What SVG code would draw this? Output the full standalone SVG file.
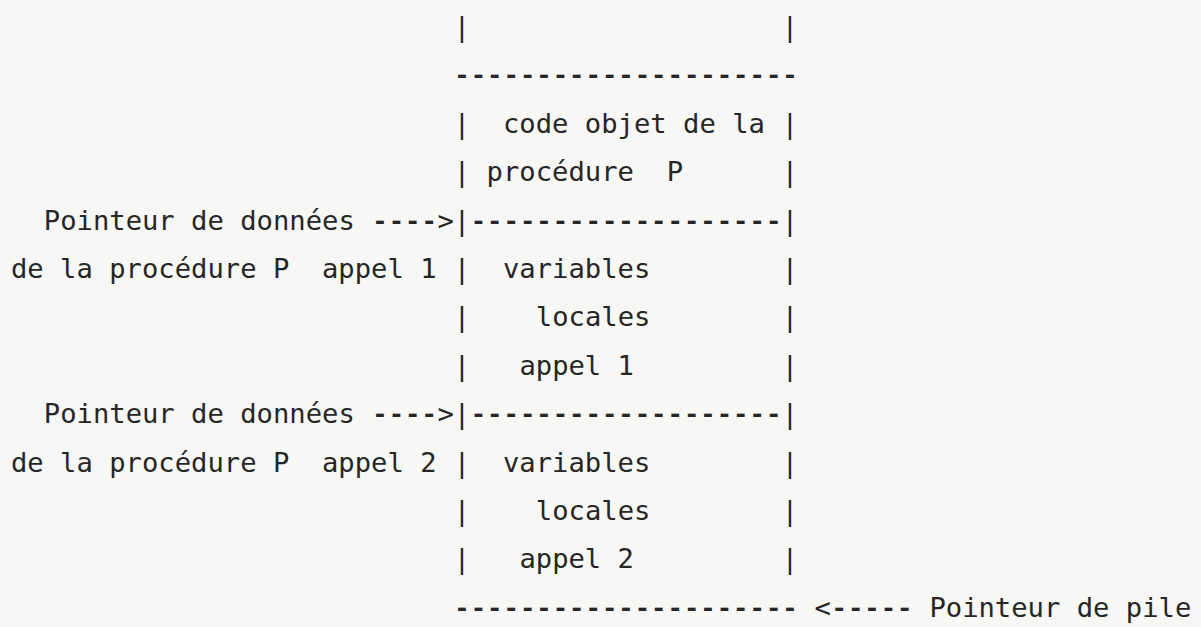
<svg xmlns="http://www.w3.org/2000/svg" width="1201" height="627" viewBox="0 0 1201 627">
<style>
text{font-family:"DejaVu Sans Mono","Liberation Mono",monospace;font-size:27.2px;fill:#262626;white-space:pre}
text.d{font-family:"Liberation Mono","DejaVu Sans Mono",monospace;font-size:27.33px;font-weight:bold}
tspan.h{font-family:"DejaVu Sans Mono","Liberation Mono",monospace;font-size:27.2px;font-weight:normal}
</style>
<rect width="1201" height="627" fill="#f7f7f5"/>
<g id="stack-top">
<text x="453.8" y="36">|</text><text x="781.8" y="36">|</text>
<text class="d" x="453.8" y="84.4">---------------------</text>
</g>
<g id="code-procedure-P">
<text x="453.8" y="132.8">|</text><text x="503" y="132.8">code objet de la</text><text x="781.8" y="132.8">|</text>
<text x="453.8" y="181.2">|</text><text x="486.6" y="181.2">procédure  P</text><text x="781.8" y="181.2">|</text>
<text x="453.8" y="229.6">|</text><text class="d" x="470.2" y="229.6">-------------------</text><text x="781.8" y="229.6">|</text>
</g>
<g id="locales-appel-1">
<text x="453.8" y="278">|</text><text x="503" y="278">variables</text><text x="781.8" y="278">|</text>
<text x="453.8" y="326.4">|</text><text x="535.8" y="326.4">locales</text><text x="781.8" y="326.4">|</text>
<text x="453.8" y="374.8">|</text><text x="519.4" y="374.8">appel 1</text><text x="781.8" y="374.8">|</text>
<text x="453.8" y="423.2">|</text><text class="d" x="470.2" y="423.2">-------------------</text><text x="781.8" y="423.2">|</text>
</g>
<g id="locales-appel-2">
<text x="453.8" y="471.6">|</text><text x="503" y="471.6">variables</text><text x="781.8" y="471.6">|</text>
<text x="453.8" y="520">|</text><text x="535.8" y="520">locales</text><text x="781.8" y="520">|</text>
<text x="453.8" y="568.4">|</text><text x="519.4" y="568.4">appel 2</text><text x="781.8" y="568.4">|</text>
<text class="d" x="453.8" y="616.8">---------------------</text>
</g>
<g id="label-pointeur-1">
<text x="43.8" y="229.6">Pointeur de données</text>
<text x="11" y="278">de la procédure P  appel 1</text>
</g>
<g id="label-pointeur-2">
<text x="43.8" y="423.2">Pointeur de données</text>
<text x="11" y="471.6">de la procédure P  appel 2</text>
</g>
<g id="label-pile">
<text x="929.4" y="616.8">Pointeur de pile</text>
</g>
<g id="connectors">
<text class="d" x="371.8" y="229.6">----<tspan class="h" x="437.4">&gt;</tspan></text>
<text class="d" x="371.8" y="423.2">----<tspan class="h" x="437.4">&gt;</tspan></text>
<text class="d" x="814.6" y="616.8"><tspan class="h">&lt;</tspan><tspan x="831">-----</tspan></text>
</g>
</svg>
